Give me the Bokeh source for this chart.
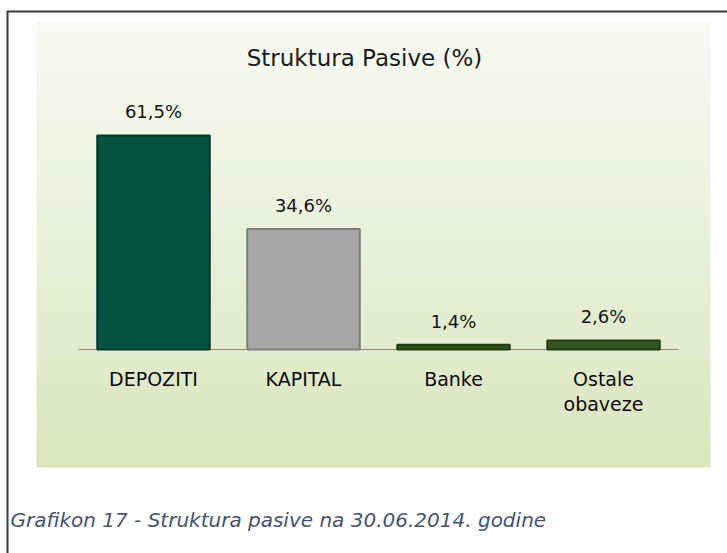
import numpy as np
from bokeh.plotting import figure
from bokeh.models import Range1d
from bokeh.core.properties import value
from bokeh.embed import file_html
from bokeh.resources import INLINE

# ---- data ----
categories = ["DEPOZITI", "KAPITAL", "Banke", "Ostale\nobaveze"]
values = [61.5, 34.6, 1.4, 2.6]
bar_colors = ["#03533f", "#a6a6a6", "#33561f", "#33561f"]
edge_colors = ["#01362a", "#7d7d7d", "#223d14", "#223d14"]
title_text = "Struktura Pasive (%)"
caption_text = "Grafikon 17 - Struktura pasive na 30.06.2014. godine"

# ---- layout helpers (pixel geometry of the picture) ----
W, H = 727, 553
PX = 150.0   # px per category
PY = 3.48    # px per percent
OX, OY = 78.0, 349.0  # px of axis origin
def fx(px):
    return (px - OX) / PX
def fy(py):
    return (OY - py) / PY

p = figure(width=W, height=H, output_backend="svg", toolbar_location=None,
           x_range=Range1d(fx(0), fx(W)), y_range=Range1d(fy(H), fy(0)),
           min_border=0)
p.axis.visible = False
p.grid.visible = False
p.outline_line_color = None
p.background_fill_color = "white"
p.border_fill_color = "white"

# panel gradient
n = 256
top_c = np.array([0xf8, 0xfa, 0xf3], dtype=float)
mid_c = np.array([0xea, 0xf1, 0xda], dtype=float)
bot_c = np.array([0xdb, 0xe6, 0xbd], dtype=float)
img = np.zeros((n, 1), dtype=np.uint32)
view = img.view(dtype=np.uint8).reshape((n, 1, 4))
for i in range(n):
    t = i / (n - 1)  # 0 bottom, 1 top
    if t < 0.5:
        c = bot_c + (mid_c - bot_c) * (t / 0.5)
    else:
        c = mid_c + (top_c - mid_c) * ((t - 0.5) / 0.5)
    view[i, 0, 0:3] = c.astype(np.uint8)
    view[i, 0, 3] = 255
p.image_rgba(image=[img], x=fx(36), y=fy(467), dw=fx(710) - fx(36), dh=fy(21) - fy(467))

# outer border lines (top and left)
p.segment(x0=[fx(7), fx(6)], y0=[fy(H), fy(11)], x1=[fx(7), fx(W)], y1=[fy(11), fy(11)],
          line_color="#3a3a3a", line_width=2)

# axis baseline
p.segment(x0=[0], y0=[0], x1=[len(categories)], y1=[0], line_color="#8a8f6e", line_width=1.2)

centers = [i + 0.5 for i in range(len(categories))]
p.vbar(x=centers, top=values, bottom=0, width=0.75,
       fill_color=bar_colors, line_color=edge_colors, line_width=2)

labels = [f"{v:.1f}%".replace(".", ",") for v in values]
p.text(x=centers, y=values, text=labels, text_align="center", text_baseline="bottom",
       y_offset=-13, text_font=value("DejaVu Sans"), text_font_size="18px", text_color="#141414")

p.text(x=centers, y=[0] * len(categories), text=categories, text_align="center",
       text_baseline="top", y_offset=18, text_font=value("DejaVu Sans"), text_font_size="19px",
       text_color="#0a0a0a", text_line_height=1.15)

p.text(x=[fx(364)], y=[fy(57)], text=[title_text], text_align="center", text_baseline="middle",
       text_font=value("DejaVu Sans"), text_font_size="23px", text_color="#1a1a1a")

p.text(x=[fx(10)], y=[fy(519)], text=[caption_text], text_align="left", text_baseline="middle",
       text_font=value("DejaVu Sans"), text_font_size="20px", text_font_style="italic",
       text_color="#45536f")

open("out.html", "w").write(file_html(p, INLINE))
